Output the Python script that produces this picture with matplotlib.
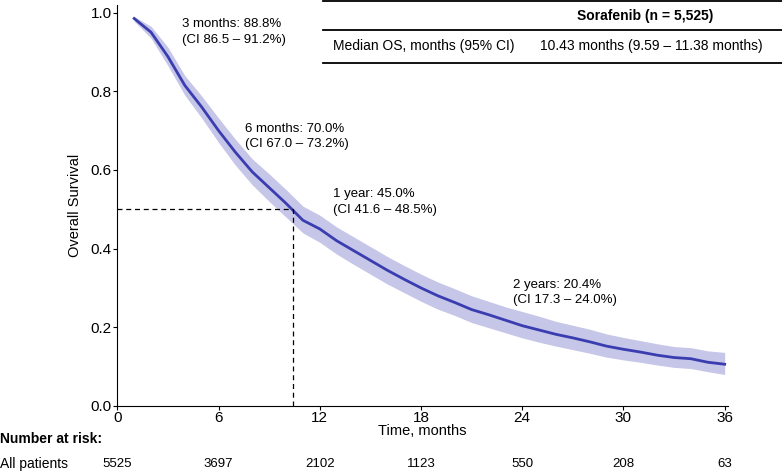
import numpy as np
import matplotlib
matplotlib.use("Agg")
import matplotlib.pyplot as plt

plt.rcParams["font.family"] = ["Liberation Sans", "DejaVu Sans"]

## Data
months = [1, 2, 3, 4, 5, 6, 7, 8, 9, 10, 11, 12, 13, 14, 15, 16, 17, 18,
          19, 20, 21, 22, 23, 24, 25, 26, 27, 28, 29, 30, 31, 32, 33, 34, 35, 36]
surv = [0.985, 0.95, 0.888, 0.815, 0.76, 0.70, 0.645, 0.595, 0.555, 0.515, 0.472, 0.45,
        0.42, 0.395, 0.37, 0.345, 0.322, 0.30, 0.28, 0.263, 0.245, 0.232, 0.218, 0.204,
        0.193, 0.182, 0.173, 0.163, 0.152, 0.144, 0.137, 0.129, 0.123, 0.12, 0.111, 0.106]
ci_low = [0.978, 0.935, 0.865, 0.79, 0.732, 0.67, 0.612, 0.562, 0.52, 0.48, 0.44, 0.416,
          0.386, 0.36, 0.335, 0.31, 0.288, 0.266, 0.246, 0.23, 0.212, 0.199, 0.186, 0.173,
          0.162, 0.152, 0.143, 0.134, 0.124, 0.117, 0.111, 0.104, 0.098, 0.095, 0.087, 0.08]
ci_high = [0.99, 0.965, 0.912, 0.84, 0.788, 0.732, 0.678, 0.628, 0.59, 0.55, 0.508, 0.485,
           0.455, 0.43, 0.405, 0.38, 0.357, 0.335, 0.315, 0.298, 0.28, 0.266, 0.252, 0.24,
           0.228, 0.215, 0.205, 0.195, 0.183, 0.174, 0.166, 0.158, 0.151, 0.148, 0.14, 0.136]
median_os = 10.43

risk_times = [0, 6, 12, 18, 24, 30, 36]
risk_counts = [5525, 3697, 2102, 1123, 550, 208, 63]

notes = [(3.85, 0.985, "3 months: 88.8%\n(CI 86.5 \u2013 91.2%)"),
         (7.55, 0.72, "6 months: 70.0%\n(CI 67.0 \u2013 73.2%)"),
         (12.8, 0.553, "1 year: 45.0%\n(CI 41.6 \u2013 48.5%)"),
         (23.45, 0.323, "2 years: 20.4%\n(CI 17.3 \u2013 24.0%)")]

line_col = "#3a3db0"
band_col = "#c6c6e8"

fig = plt.figure(figsize=(7.82, 4.72), dpi=100)
ax = fig.add_axes([0.150, 0.140, 0.781, 0.850])

ax.fill_between(months, ci_low, ci_high, color=band_col, lw=0)
ax.plot(months, surv, color=line_col, lw=2)

# median lines
ax.plot([0, median_os], [0.5, 0.5], color="black", lw=0.9, ls=(0, (4, 3)))
ax.plot([median_os, median_os], [0, 0.5], color="black", lw=0.9, ls=(0, (4, 3)))

for x, y, t in notes:
    ax.text(x, y, t, fontsize=9.5, va="top", ha="left", linespacing=1.35)

ax.set_xlim(0, 36.2)
ax.set_ylim(0, 1.02)
ax.set_xticks(risk_times)
ax.set_yticks(np.arange(0, 1.01, 0.2))
ax.set_yticklabels(["%.1f" % v for v in np.arange(0, 1.01, 0.2)])
ax.tick_params(labelsize=11, length=3, pad=1)
ax.spines["top"].set_visible(False)
ax.spines["right"].set_visible(False)
ax.set_xlabel("Time, months", fontsize=10.5, labelpad=-1)
ax.set_ylabel("Overall Survival", fontsize=10.5, labelpad=6)

# number at risk
fig.text(0.0, 1 - 439 / 472, "Number at risk:", fontsize=10, fontweight="bold", va="center")
fig.text(0.0, 1 - 464 / 472, "All patients", fontsize=10, va="center")
for t, n in zip(risk_times, risk_counts):
    xf = fig.transFigure.inverted().transform(ax.transData.transform((t, 0)))[0]
    fig.text(xf, 1 - 464 / 472, str(n), fontsize=9.5, ha="center", va="center")

# summary table
x0, x1 = 323 / 782, 1.0
for yp in [1, 30, 63]:
    fig.add_artist(plt.Line2D([x0, x1], [1 - yp / 472] * 2, color="black", lw=1.3,
                              transform=fig.transFigure))
fig.text(645 / 782, 1 - 16 / 472, "Sorafenib (n = 5,525)", fontsize=10, fontweight="bold",
         ha="center", va="center")
fig.text(333 / 782, 1 - 46 / 472, "Median OS, months (95% CI)", fontsize=10, va="center")
fig.text(651 / 782, 1 - 46 / 472, "10.43 months (9.59 \u2013 11.38 months)", fontsize=10,
         ha="center", va="center")

fig.savefig("out.png", dpi=100)
